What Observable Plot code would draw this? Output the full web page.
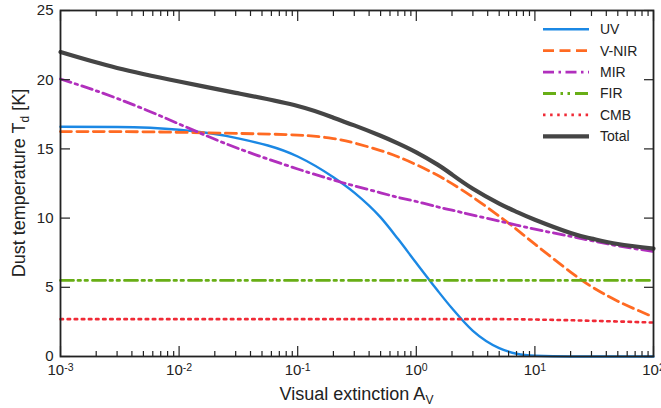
<!DOCTYPE html>
<html>
<head>
<meta charset="utf-8">
<script src="https://cdn.jsdelivr.net/npm/d3@7"></script>
<script src="https://cdn.jsdelivr.net/npm/@observablehq/plot@0.6"></script>
<style>
  body { margin: 0; background: #fff; }
  #chart svg { display: block; }
</style>
</head>
<body>
<div id="chart"></div>
<script>
// Visual extinction A_V sample points (log axis)
const extinction = [0.001, 0.003, 0.01, 0.03, 0.1, 0.2, 0.3, 0.5, 0.7, 1, 1.5, 2, 3, 5, 7, 10, 20, 30, 50, 100];

// Dust temperature [K] from each heating source
const uv    = [16.6, 16.58, 16.38, 15.8, 14.45, 12.95, 11.84, 10.05, 8.5, 6.75, 4.8, 3.48, 1.85, 0.6, 0.2, 0.05, 0, 0, 0, 0];
const vnir  = [16.25, 16.25, 16.2, 16.12, 16.0, 15.75, 15.43, 14.88, 14.43, 13.86, 13.11, 12.49, 11.51, 10.14, 9.19, 8.12, 6.1, 5.05, 4.0, 2.85];
const mir   = [20.05, 18.65, 16.8, 15.1, 13.55, 12.75, 12.33, 11.83, 11.5, 11.2, 10.82, 10.57, 10.22, 9.78, 9.5, 9.2, 8.68, 8.37, 8.0, 7.58];
const fir   = [5.5, 5.5, 5.5, 5.5, 5.5, 5.5, 5.5, 5.5, 5.5, 5.5, 5.5, 5.5, 5.5, 5.5, 5.5, 5.5, 5.5, 5.5, 5.5, 5.5];
const cmb   = [2.7, 2.7, 2.7, 2.7, 2.7, 2.7, 2.7, 2.7, 2.7, 2.7, 2.7, 2.7, 2.7, 2.7, 2.69, 2.67, 2.62, 2.58, 2.53, 2.45];
const total = [22.0, 20.85, 19.87, 19.05, 18.1, 17.25, 16.7, 15.95, 15.4, 14.75, 13.88, 13.15, 12.12, 11.05, 10.45, 9.88, 8.92, 8.52, 8.13, 7.8];

const seriesNames = ["UV", "V-NIR", "MIR", "FIR", "CMB", "Total"];
const seriesValues = [uv, vnir, mir, fir, cmb, total];

// Axis ticks
const yTicks = [0, 5, 10, 15, 20, 25];
const xMajor = [1e-3, 1e-2, 1e-1, 1e0, 1e1, 1e2];
const xMinor = [];
for (let e = -3; e < 2; e++) for (let k = 2; k <= 9; k++) xMinor.push(k * Math.pow(10, e));

// Line styling per series
const lineStyle = {
  "UV":    {stroke: "#1b88e4", strokeWidth: 2.4, dash: null, curve: "monotone-x"},
  "V-NIR": {stroke: "#ff6a22", strokeWidth: 2.8, dash: "11,5.5", curve: "natural"},
  "MIR":   {stroke: "#b12fbd", strokeWidth: 2.8, dash: "11,4.5,2.5,4.5", curve: "natural"},
  "FIR":   {stroke: "#68ae16", strokeWidth: 2.8, dash: "13,4.5,2.5,4.5,2.5,5", curve: "linear"},
  "CMB":   {stroke: "#f02a36", strokeWidth: 2.6, dash: "2.5,4.6", curve: "monotone-x"},
  "Total": {stroke: "#454545", strokeWidth: 4.2, dash: null, curve: "natural"}
};

const rows = seriesNames.map((name, s) =>
  extinction.map((a, i) => ({name, a, t: seriesValues[s][i]}))
);

const axisColor = "#222";

const lineMarks = rows.map((data, s) => {
  const st = lineStyle[seriesNames[s]];
  return Plot.line(data, {
    x: "a", y: "t",
    stroke: st.stroke,
    strokeWidth: st.strokeWidth,
    strokeDasharray: st.dash,
    curve: st.curve
  });
});

const chart = Plot.plot({
  width: 661,
  height: 408,
  marginLeft: 60,
  marginRight: 8,
  marginTop: 10,
  marginBottom: 52,
  style: {fontFamily: "'Liberation Sans', Arial, sans-serif", fontSize: "15px", color: axisColor, background: "#fff"},
  x: {type: "log", domain: [1e-3, 1e2]},
  y: {domain: [0, 25]},
  marks: [
    ...lineMarks,
    // inward minor ticks on bottom and top
    Plot.axisX(xMinor, {anchor: "bottom", tickSize: 5, dy: -5, fill: "none", stroke: axisColor, strokeWidth: 1.2, label: null}),
    Plot.axisX(xMinor, {anchor: "top", tickSize: 5, dy: 5, fill: "none", stroke: axisColor, strokeWidth: 1.2, label: null}),
    // inward major ticks on bottom and top
    Plot.axisX(xMajor, {anchor: "bottom", tickSize: 10, dy: -10, fill: "none", stroke: axisColor, strokeWidth: 1.2, label: null}),
    Plot.axisX(xMajor, {anchor: "top", tickSize: 10, dy: 10, fill: "none", stroke: axisColor, strokeWidth: 1.2, label: null}),
    // x tick labels (powers of ten)
    Plot.axisX(xMajor, {anchor: "bottom", tickSize: 0, tickPadding: 8, stroke: "none", fill: axisColor, fontSize: 15,
      tickFormat: d => String(Math.round(Math.log10(d))), label: null}),
    // y ticks, left and right, inward
    Plot.axisY(yTicks, {anchor: "left", tickSize: 10, dx: 10, fill: "none", stroke: axisColor, strokeWidth: 1.2, label: null}),
    Plot.axisY(yTicks, {anchor: "right", tickSize: 10, dx: -10, fill: "none", stroke: axisColor, strokeWidth: 1.2, label: null}),
    Plot.axisY(yTicks, {anchor: "left", tickSize: 0, tickPadding: 7, stroke: "none", fill: axisColor, fontSize: 15, label: null}),
    Plot.frame({stroke: axisColor, strokeWidth: 1.8})
  ]
});

document.getElementById("chart").appendChild(chart);

const svg = d3.select(chart);

// Render x tick labels as 10 with a raised exponent
svg.selectAll('g[aria-label="x-axis tick label"] text').each(function () {
  const exp = this.textContent;
  const t = d3.select(this);
  t.text(null);
  t.append("tspan").text("10");
  t.append("tspan").attr("dy", -4).attr("font-size", 10.5).text(exp);
});

// Axis titles with subscripts
const xTitle = svg.append("text")
  .attr("x", 356.5).attr("y", 400)
  .attr("text-anchor", "middle")
  .attr("font-size", 18)
  .attr("fill", axisColor);
xTitle.append("tspan").text("Visual extinction A");
xTitle.append("tspan").attr("dy", 4).attr("font-size", 12).text("V");

const yTitle = svg.append("text")
  .attr("transform", "translate(25,183) rotate(-90)")
  .attr("text-anchor", "middle")
  .attr("font-size", 18)
  .attr("fill", axisColor);
yTitle.append("tspan").text("Dust temperature T");
yTitle.append("tspan").attr("dy", 4).attr("font-size", 12).text("d");
yTitle.append("tspan").attr("dy", -4).text(" [K]");

// Legend in the upper right of the plot area
const legend = svg.append("g")
  .attr("font-size", 14)
  .attr("fill", axisColor)
  .attr("text-anchor", "start");
seriesNames.forEach((name, i) => {
  const st = lineStyle[name];
  const y = 29.3 + i * 21.4;
  legend.append("line")
    .attr("x1", 543).attr("x2", 589).attr("y1", y).attr("y2", y)
    .attr("stroke", st.stroke)
    .attr("stroke-width", st.strokeWidth)
    .attr("stroke-dasharray", st.dash);
  legend.append("text")
    .attr("x", 600).attr("y", y)
    .attr("dy", "0.35em")
    .text(name);
});
</script>
</body>
</html>
